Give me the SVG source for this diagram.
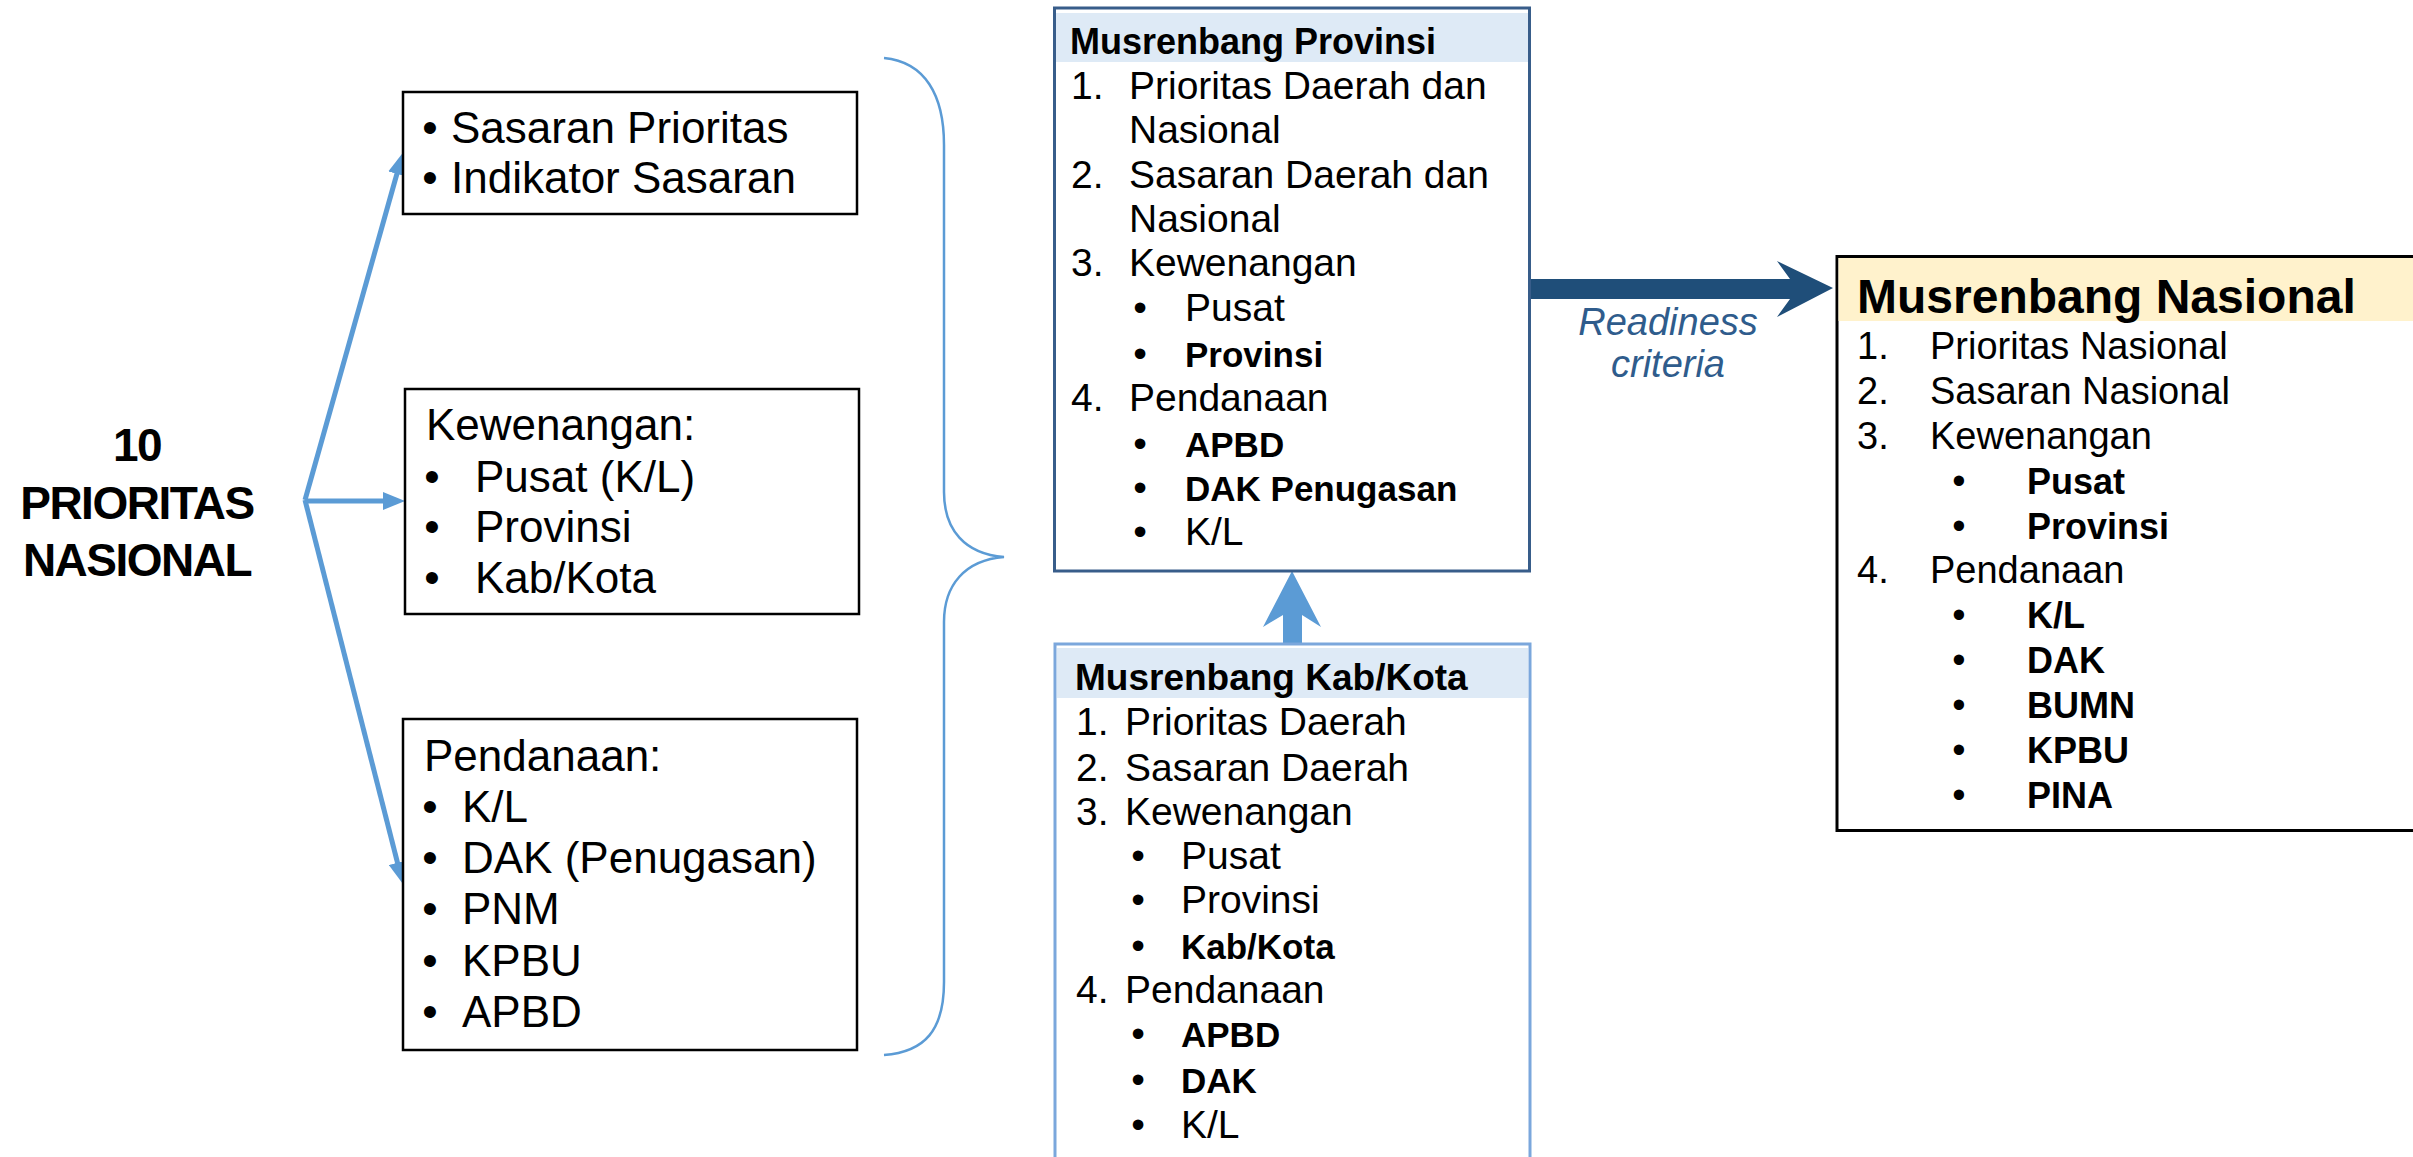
<svg xmlns="http://www.w3.org/2000/svg" width="2413" height="1157" viewBox="0 0 2413 1157">
<style>
text{font-family:"Liberation Sans",Arial,sans-serif;fill:#000}
.lb{font-size:44px}
.pv{font-size:39px}
.pvb{font-size:35px;font-weight:bold}
.ns{font-size:38px}
.nsb{font-size:36px;font-weight:bold}
.box{fill:#fff;stroke:#000;stroke-width:2.5}
.conn{stroke:#5B9BD5;stroke-width:5;fill:none}
.bul{text-anchor:middle}
.title{font-size:46px;font-weight:bold;text-anchor:middle;letter-spacing:-1.5px}
</style>
<defs>
<marker id="ah" markerUnits="userSpaceOnUse" markerWidth="22" markerHeight="18" viewBox="0 0 22 18" refX="4" refY="9" orient="auto">
<path d="M0,0 L22,9 L0,18 z" fill="#5B9BD5"/>
</marker>
</defs>
<rect width="2413" height="1157" fill="#fff"/>

<g id="prioritas-nasional">
<text class="title" x="137" y="461">10</text>
<text class="title" x="137" y="519">PRIORITAS</text>
<text class="title" x="137" y="576">NASIONAL</text>
</g>

<g id="connectors">
<line class="conn" x1="305" y1="500" x2="398" y2="170" marker-end="url(#ah)"/>
<line class="conn" x1="305" y1="501" x2="387" y2="501" marker-end="url(#ah)"/>
<line class="conn" x1="305" y1="500" x2="398.5" y2="866.6" marker-end="url(#ah)"/>
<path d="M884,58 C925,62 944,95 944,145 L944,492 C944,530 965,554 1004,557 C965,560 944,585 944,622 L944,982 C944,1030 925,1052 884,1055" fill="none" stroke="#5B9BD5" stroke-width="2.5"/>
<polygon points="1529,279 1790,279 1777,261 1833,288 1777,317 1790,299 1529,299" fill="#1F4E79"/>
<polygon points="1283,644 1283,615 1263,627 1292,571 1321,627 1302,615 1302,644" fill="#5B9BD5"/>
<text x="1668" y="335" text-anchor="middle" font-size="38" font-style="italic" style="fill:#2F5C8C">Readiness</text>
<text x="1668" y="377" text-anchor="middle" font-size="38" font-style="italic" style="fill:#2F5C8C">criteria</text>
</g>

<g id="sasaran">
<rect class="box" x="403" y="92" width="454" height="122"/>
<text class="lb bul" x="430" y="143">•</text>
<text class="lb" x="451" y="143">Sasaran Prioritas</text>
<text class="lb bul" x="430" y="193">•</text>
<text class="lb" x="451" y="193">Indikator Sasaran</text>
</g>

<g id="kewenangan">
<rect class="box" x="405" y="389" width="454" height="225"/>
<text class="lb" x="426" y="440">Kewenangan:</text>
<text class="lb bul" x="432" y="492">•</text>
<text class="lb" x="475" y="492">Pusat (K/L)</text>
<text class="lb bul" x="432" y="542">•</text>
<text class="lb" x="475" y="542">Provinsi</text>
<text class="lb bul" x="432" y="593">•</text>
<text class="lb" x="475" y="593">Kab/Kota</text>
</g>

<g id="pendanaan">
<rect class="box" x="403" y="719" width="454" height="331"/>
<text class="lb" x="424" y="771">Pendanaan:</text>
<text class="lb bul" x="430" y="822">•</text>
<text class="lb" x="462" y="822">K/L</text>
<text class="lb bul" x="430" y="873">•</text>
<text class="lb" x="462" y="873">DAK (Penugasan)</text>
<text class="lb bul" x="430" y="924">•</text>
<text class="lb" x="462" y="924">PNM</text>
<text class="lb bul" x="430" y="976">•</text>
<text class="lb" x="462" y="976">KPBU</text>
<text class="lb bul" x="430" y="1027">•</text>
<text class="lb" x="462" y="1027">APBD</text>
</g>

<g id="musrenbang-provinsi">
<rect x="1054.5" y="8" width="475" height="563" fill="#fff" stroke="#385D8A" stroke-width="3"/>
<rect x="1056" y="13" width="472" height="49" fill="#DEEAF6"/>
<text x="1070" y="54" font-size="36" font-weight="bold">Musrenbang Provinsi</text>
<text class="pv" x="1071" y="99">1.</text>
<text class="pv" x="1129" y="99">Prioritas Daerah dan</text>
<text class="pv" x="1129" y="143">Nasional</text>
<text class="pv" x="1071" y="188">2.</text>
<text class="pv" x="1129" y="188">Sasaran Daerah dan</text>
<text class="pv" x="1129" y="232">Nasional</text>
<text class="pv" x="1071" y="276">3.</text>
<text class="pv" x="1129" y="276">Kewenangan</text>
<text class="pv bul" x="1140" y="321">•</text>
<text class="pv" x="1185" y="321">Pusat</text>
<text class="pv bul" x="1140" y="367">•</text>
<text class="pvb" x="1185" y="367">Provinsi</text>
<text class="pv" x="1071" y="411">4.</text>
<text class="pv" x="1129" y="411">Pendanaan</text>
<text class="pv bul" x="1140" y="457">•</text>
<text class="pvb" x="1185" y="457">APBD</text>
<text class="pv bul" x="1140" y="501">•</text>
<text class="pvb" x="1185" y="501">DAK Penugasan</text>
<text class="pv bul" x="1140" y="545">•</text>
<text class="pv" x="1185" y="545">K/L</text>
</g>

<g id="musrenbang-kabkota">
<rect x="1055" y="644" width="475" height="540" fill="#fff" stroke="#7BA7DC" stroke-width="3"/>
<rect x="1057" y="648" width="471" height="50" fill="#DEEAF6"/>
<text x="1075" y="690" font-size="37" font-weight="bold">Musrenbang Kab/Kota</text>
<text class="pv" x="1076" y="735">1.</text>
<text class="pv" x="1125" y="735">Prioritas Daerah</text>
<text class="pv" x="1076" y="781">2.</text>
<text class="pv" x="1125" y="781">Sasaran Daerah</text>
<text class="pv" x="1076" y="825">3.</text>
<text class="pv" x="1125" y="825">Kewenangan</text>
<text class="pv bul" x="1138" y="869">•</text>
<text class="pv" x="1181" y="869">Pusat</text>
<text class="pv bul" x="1138" y="913">•</text>
<text class="pv" x="1181" y="913">Provinsi</text>
<text class="pv bul" x="1138" y="959">•</text>
<text class="pvb" x="1181" y="959">Kab/Kota</text>
<text class="pv" x="1076" y="1003">4.</text>
<text class="pv" x="1125" y="1003">Pendanaan</text>
<text class="pv bul" x="1138" y="1047">•</text>
<text class="pvb" x="1181" y="1047">APBD</text>
<text class="pv bul" x="1138" y="1093">•</text>
<text class="pvb" x="1181" y="1093">DAK</text>
<text class="pv bul" x="1138" y="1138">•</text>
<text class="pv" x="1181" y="1138">K/L</text>
</g>

<g id="musrenbang-nasional">
<rect x="1837" y="256.5" width="620" height="574" fill="#fff" stroke="#000" stroke-width="3"/>
<rect x="1838.5" y="258" width="580" height="63" fill="#FFF2CC"/>
<text x="1857" y="313" font-size="48" font-weight="bold">Musrenbang Nasional</text>
<text class="ns" x="1857" y="359">1.</text>
<text class="ns" x="1930" y="359">Prioritas Nasional</text>
<text class="ns" x="1857" y="404">2.</text>
<text class="ns" x="1930" y="404">Sasaran Nasional</text>
<text class="ns" x="1857" y="449">3.</text>
<text class="ns" x="1930" y="449">Kewenangan</text>
<text class="ns bul" x="1959" y="494">•</text>
<text class="nsb" x="2027" y="494">Pusat</text>
<text class="ns bul" x="1959" y="539">•</text>
<text class="nsb" x="2027" y="539">Provinsi</text>
<text class="ns" x="1857" y="583">4.</text>
<text class="ns" x="1930" y="583">Pendanaan</text>
<text class="ns bul" x="1959" y="628">•</text>
<text class="nsb" x="2027" y="628">K/L</text>
<text class="ns bul" x="1959" y="673">•</text>
<text class="nsb" x="2027" y="673">DAK</text>
<text class="ns bul" x="1959" y="718">•</text>
<text class="nsb" x="2027" y="718">BUMN</text>
<text class="ns bul" x="1959" y="763">•</text>
<text class="nsb" x="2027" y="763">KPBU</text>
<text class="ns bul" x="1959" y="808">•</text>
<text class="nsb" x="2027" y="808">PINA</text>
</g>
</svg>
